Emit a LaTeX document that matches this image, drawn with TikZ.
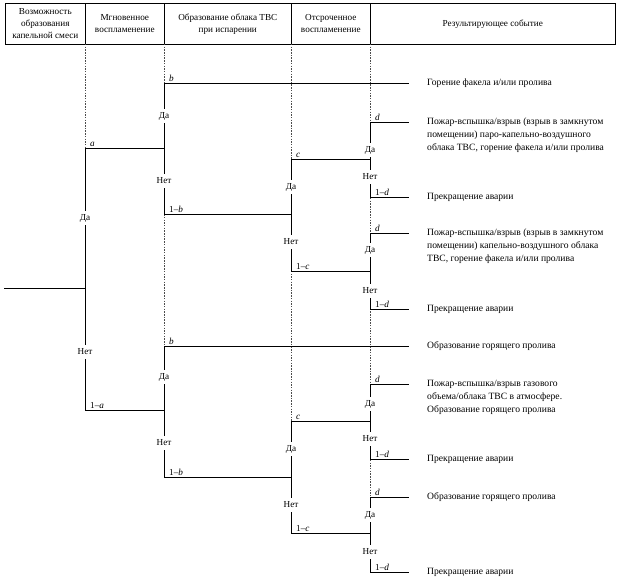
\documentclass[tikz,border=0pt]{standalone}
\usepackage{fontspec}
\setmainfont{Liberation Serif}
\begin{document}
\begin{tikzpicture}[x=1pt,y=-1pt,
  every node/.style={font=\fontsize{9.2}{12}\selectfont},
  tree/.style={line width=0.9pt,black},
  guide/.style={line width=0.4pt,black!70,dash pattern=on 1.5pt off 1.2pt},
  hcell/.style={draw,line width=0.6pt,inner sep=0pt,align=center,anchor=north west},
  yn/.style={fill=white,inner xsep=1pt,inner ysep=3.5pt},
  prob/.style={anchor=south west,inner sep=1pt,xshift=4pt},
  res/.style={anchor=west,inner sep=0pt,align=left,font=\fontsize{9.6}{13}\selectfont},
  resm/.style={anchor=north west,inner sep=0pt,align=left,yshift=4pt,font=\fontsize{9.6}{13}\selectfont}]
\useasboundingbox (0,0) rectangle (620,583);
% header
\node[hcell,minimum width=80pt,minimum height=41pt] (h1) at (5,3) {Возможность\\образования\\капельной смеси};
\node[hcell,minimum width=79pt,minimum height=41pt] (h2) at (85,3) {Мгновенное\\воспламенение};
\node[hcell,minimum width=127pt,minimum height=41pt] (h3) at (164,3) {Образование облака ТВС\\при испарении};
\node[hcell,minimum width=79pt,minimum height=41pt] (h4) at (291,3) {Отсроченное\\воспламенение};
\node[hcell,minimum width=245pt,minimum height=41pt] (h5) at (370,3) {Результирующее событие};
% guide coordinates
\coordinate (g1) at (85,44); \coordinate (g2) at (164,44);
\coordinate (g3) at (291,44); \coordinate (g4) at (370,44);
% tree coordinates
\coordinate (R) at (4,288); \coordinate (A) at (85,288);
\coordinate (A1) at (85,148); \coordinate (A2) at (85,410);
\coordinate (B1j) at (164,148); \coordinate (B1y) at (164,83); \coordinate (B1n) at (164,214); \coordinate (B1e) at (409,83);
\coordinate (C1j) at (291,214); \coordinate (C1y) at (291,159); \coordinate (C1n) at (291,271);
\coordinate (D1j) at (370,159); \coordinate (D1y) at (370,122); \coordinate (D1n) at (370,197);
\coordinate (D1ye) at (409,122); \coordinate (D1ne) at (409,197);
\coordinate (D2j) at (370,271); \coordinate (D2y) at (370,233); \coordinate (D2n) at (370,309);
\coordinate (D2ye) at (409,233); \coordinate (D2ne) at (409,309);
\coordinate (B2j) at (164,410); \coordinate (B2y) at (164,346); \coordinate (B2n) at (164,477); \coordinate (B2e) at (409,346);
\coordinate (C2j) at (291,477); \coordinate (C2y) at (291,421); \coordinate (C2n) at (291,533);
\coordinate (D3j) at (370,421); \coordinate (D3y) at (370,384); \coordinate (D3n) at (370,459);
\coordinate (D3ye) at (409,384); \coordinate (D3ne) at (409,459);
\coordinate (D4j) at (370,533); \coordinate (D4y) at (370,497); \coordinate (D4n) at (370,572);
\coordinate (D4ye) at (409,497); \coordinate (D4ne) at (409,572);
% guides
\draw[guide] (g1) -- (A1);
\draw[guide] (g2) -- (B2n);
\draw[guide] (g3) -- (C2n);
\draw[guide] (g4) -- (D4n);
% tree
\draw[tree] (R) -- (A);
\draw[tree] (A1) -- (A2);
\draw[tree] (A1) -- (B1j); \draw[tree] (A2) -- (B2j);
\draw[tree] (B1y) -- (B1n); \draw[tree] (B1y) -- (B1e); \draw[tree] (B1n) -- (C1j);
\draw[tree] (C1y) -- (C1n); \draw[tree] (C1y) -- (D1j); \draw[tree] (C1n) -- (D2j);
\draw[tree] (D1y) -- (D1n); \draw[tree] (D1y) -- (D1ye); \draw[tree] (D1n) -- (D1ne);
\draw[tree] (D2y) -- (D2n); \draw[tree] (D2y) -- (D2ye); \draw[tree] (D2n) -- (D2ne);
\draw[tree] (B2y) -- (B2n); \draw[tree] (B2y) -- (B2e); \draw[tree] (B2n) -- (C2j);
\draw[tree] (C2y) -- (C2n); \draw[tree] (C2y) -- (D3j); \draw[tree] (C2n) -- (D4j);
\draw[tree] (D3y) -- (D3n); \draw[tree] (D3y) -- (D3ye); \draw[tree] (D3n) -- (D3ne);
\draw[tree] (D4y) -- (D4n); \draw[tree] (D4y) -- (D4ye); \draw[tree] (D4n) -- (D4ne);
% probabilities
\node[prob] (pa) at (A1) {\textit{a}};
\node[prob] (pna) at (A2) {1–\textit{a}};
\node[prob] (pb1) at (B1y) {\textit{b}};
\node[prob] (pnb1) at (B1n) {1–\textit{b}};
\node[prob] (pc1) at (C1y) {\textit{c}};
\node[prob] (pnc1) at (C1n) {1–\textit{c}};
\node[prob] (pd1) at (D1y) {\textit{d}};
\node[prob] (pnd1) at (D1n) {1–\textit{d}};
\node[prob] (pd2) at (D2y) {\textit{d}};
\node[prob] (pnd2) at (D2n) {1–\textit{d}};
\node[prob] (pb2) at (B2y) {\textit{b}};
\node[prob] (pnb2) at (B2n) {1–\textit{b}};
\node[prob] (pc2) at (C2y) {\textit{c}};
\node[prob] (pnc2) at (C2n) {1–\textit{c}};
\node[prob] (pd3) at (D3y) {\textit{d}};
\node[prob] (pnd3) at (D3n) {1–\textit{d}};
\node[prob] (pd4) at (D4y) {\textit{d}};
\node[prob] (pnd4) at (D4n) {1–\textit{d}};
% yes / no
\node[yn] (ya) at (85,218) {Да};   \node[yn] (na) at (85,352) {Нет};
\node[yn] (yb1) at (164,116) {Да}; \node[yn] (nb1) at (164,181) {Нет};
\node[yn] (yc1) at (291,187) {Да}; \node[yn] (nc1) at (291,242) {Нет};
\node[yn] (yd1) at (370,150) {Да}; \node[yn] (nd1) at (370,177) {Нет};
\node[yn] (yd2) at (370,250) {Да}; \node[yn] (nd2) at (370,291) {Нет};
\node[yn] (yb2) at (164,377) {Да}; \node[yn] (nb2) at (164,443) {Нет};
\node[yn] (yc2) at (291,449) {Да}; \node[yn] (nc2) at (291,505) {Нет};
\node[yn] (yd3) at (370,404) {Да}; \node[yn] (nd3) at (370,439) {Нет};
\node[yn] (yd4) at (370,515) {Да}; \node[yn] (nd4) at (370,552) {Нет};
% results
\node[res] (t1) at (427,83) {Горение факела и/или пролива};
\node[resm] (t2) at (427,122) {Пожар-вспышка/взрыв (взрыв в замкнутом\\помещении) паро-капельно-воздушного\\облака ТВС, горение факела и/или пролива};
\node[res] (t3) at (427,197) {Прекращение аварии};
\node[resm] (t4) at (427,233) {Пожар-вспышка/взрыв (взрыв в замкнутом\\помещении) капельно-воздушного облака\\ТВС, горение факела и/или пролива};
\node[res] (t5) at (427,309) {Прекращение аварии};
\node[res] (t6) at (427,346) {Образование горящего пролива};
\node[resm] (t7) at (427,384) {Пожар-вспышка/взрыв газового\\объема/облака ТВС в атмосфере.\\Образование горящего пролива};
\node[res] (t8) at (427,459) {Прекращение аварии};
\node[res] (t9) at (427,497) {Образование горящего пролива};
\node[res] (t10) at (427,572) {Прекращение аварии};
\end{tikzpicture}
\end{document}
